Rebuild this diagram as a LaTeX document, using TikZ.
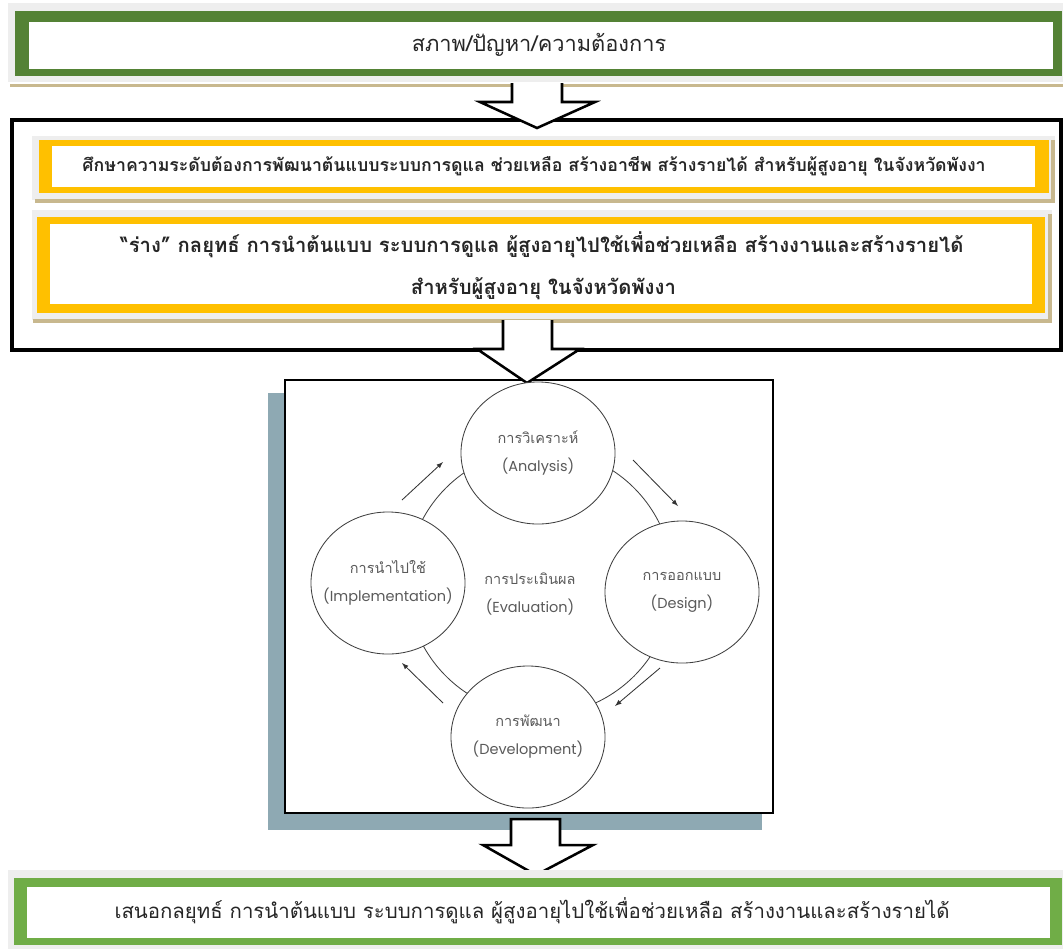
\documentclass[tikz,border=0pt]{standalone}
\usepackage{fontspec}
\setmainfont[Script=Thai]{Loma}
\newfontfamily\latinfont{Poppins}
\usetikzlibrary{shapes.geometric}

\definecolor{darkgreen}{HTML}{548235}
\definecolor{lightgreen}{HTML}{70AD47}
\definecolor{amber}{HTML}{FFC000}
\definecolor{shadowgray}{HTML}{EEEEEE}
\definecolor{shadowtan}{HTML}{C8B88E}
\definecolor{panelshadow}{HTML}{8EA9B3}
\definecolor{cycletext}{HTML}{5A5A5A}

\tikzset{
  boxtext/.style={font=\fontsize{14.5}{16}\selectfont, text=black!85},
  boldtext/.style={font=\bfseries\fontsize{14.4}{30}\selectfont, text=black!85, align=center},
  hollow/.style={draw=black, line width=1.8pt, line join=miter},
  phase/.style={ellipse, draw=black!75, line width=0.6pt, fill=white,
    minimum width=3.85cm, minimum height=3.55cm, inner sep=0pt},
  phasetext/.style={align=center, text=cycletext, font=\fontsize{10.3}{20}\selectfont},
  ring/.style={draw=black!75, line width=0.6pt},
  turn/.style={->, >=latex, draw=black!80, line width=0.6pt},
}

\begin{document}
\begin{tikzpicture}[x=0.025cm, y=-0.025cm]
  \useasboundingbox (0,0) rectangle (1063,949);

  % top box
  \fill[shadowgray] (8,3) rectangle (1063,82);
  \fill[shadowtan] (10,84) rectangle (1063,87);
  \fill[darkgreen] (15,11) rectangle (1062,76);
  \fill[white] (29,22) rectangle (1053,69);
  \node[boxtext, font=\fontsize{15.5}{16}\selectfont] (need) at (539,45) {สภาพ/ปัญหา/ความต้องการ};

  % frame round the two study boxes
  \draw[line width=2.2pt] (12,120) rectangle (1061,350);

  % study box
  \fill[shadowgray] (32,136) rectangle (1055,200);
  \fill[shadowtan] (35,199) rectangle (1055,203);
  \fill[shadowtan] (1051,140) rectangle (1055,203);
  \fill[amber] (39,140) rectangle (1049,193);
  \fill[white] (52,146) rectangle (1035,187);
  \node[boldtext, font=\bfseries\fontsize{12.6}{16}\selectfont] (study) at (534,166) {ศึกษาความระดับต้องการพัฒนาต้นแบบระบบการดูแล ช่วยเหลือ สร้างอาชีพ สร้างรายได้ สำหรับผู้สูงอายุ ในจังหวัดพังงา};

  % draft box
  \fill[shadowgray] (32,210) rectangle (1052,320);
  \fill[shadowtan] (33,319) rectangle (1052,323);
  \fill[shadowtan] (1048,214) rectangle (1052,323);
  \fill[amber] (37,217) rectangle (1045,313);
  \fill[white] (50,224) rectangle (1032,304);
  \node[boldtext] (draft) at (542,266) {“ร่าง” กลยุทธ์ การนำต้นแบบ ระบบการดูแล ผู้สูงอายุไปใช้เพื่อช่วยเหลือ สร้างงานและสร้างรายได้\\\hspace*{2pt}สำหรับผู้สูงอายุ ในจังหวัดพังงา};

  % arrow into the frame
  \fill[white] (512,83) -- (512,102) -- (480,102) -- (537,128) -- (595,102) -- (562,102) -- (562,83) -- cycle;
  \draw[hollow] (512,83) -- (512,102) -- (480,102) -- (537,128) -- (595,102) -- (562,102) -- (562,83);

  % cycle panel
  \fill[panelshadow] (268,393) rectangle (762,830);
  \draw[fill=white, line width=1.2pt] (285,380) rectangle (773,813);

  % arrow into the panel
  \fill[white] (503,320) -- (503,349) -- (477,349) -- (527,383) -- (580,349) -- (552,349) -- (552,320) -- cycle;
  \draw[hollow] (503,320) -- (503,349) -- (477,349) -- (527,383) -- (580,349) -- (552,349) -- (552,320);

  \draw[ring] (540,582) circle (3.325cm);
  \node[phase] (ana) at (538,453) {};
  \node[phase] (des) at (682,592) {};
  \node[phase] (dev) at (528,737) {};
  \node[phase] (imp) at (388,583) {};
  \node[phasetext] (analabel) at (ana) {การวิเคราะห์\\{\latinfont (Analysis)}};
  \node[phasetext] (deslabel) at (des) {การออกแบบ\\{\latinfont (Design)}};
  \node[phasetext] (devlabel) at (dev) {การพัฒนา\\{\latinfont (Development)}};
  \node[phasetext] (implabel) at (imp) {การนำไปใช้\\{\latinfont (Implementation)}};
  \node[phasetext] (eva) at (530,594) {การประเมินผล\\{\latinfont (Evaluation)}};

  \coordinate (ul1) at (402,500);
  \coordinate (ul2) at (443,462);
  \coordinate (ur1) at (633,460);
  \coordinate (ur2) at (678,506);
  \coordinate (lr1) at (660,668);
  \coordinate (lr2) at (615,706);
  \coordinate (ll1) at (443,703);
  \coordinate (ll2) at (402,663);
  \draw[turn] (ul1) -- (ul2);
  \draw[turn] (ur1) -- (ur2);
  \draw[turn] (lr1) -- (lr2);
  \draw[turn] (ll1) -- (ll2);

  % arrow out of the panel
  \draw[hollow, fill=white] (511,819) -- (511,845) -- (483,845) -- (536,875) -- (593,845) -- (560,845) -- (560,819) -- cycle;

  % proposal box
  \fill[shadowgray] (8,870) rectangle (1063,949);
  \fill[lightgreen] (14,878) rectangle (1062,945);
  \fill[white] (27,887) rectangle (1050,938);
  \node[boxtext] (propose) at (532,911) {เสนอกลยุทธ์ การนำต้นแบบ ระบบการดูแล ผู้สูงอายุไปใช้เพื่อช่วยเหลือ สร้างงานและสร้างรายได้};
\end{tikzpicture}
\end{document}
